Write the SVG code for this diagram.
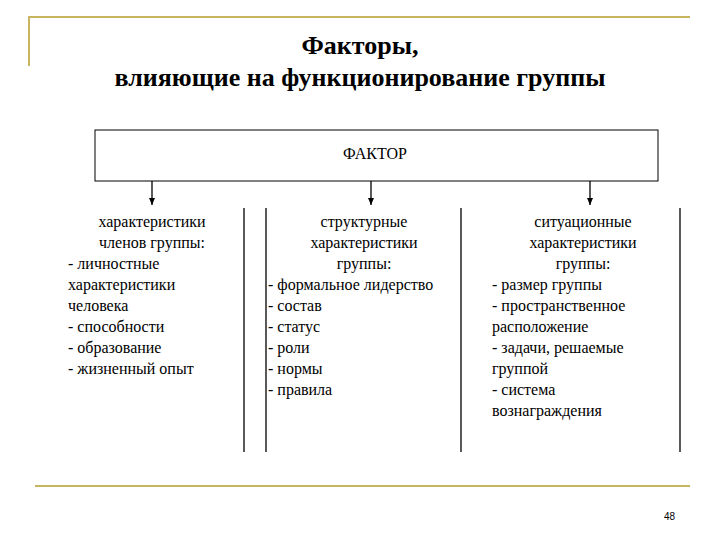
<svg xmlns="http://www.w3.org/2000/svg" width="720" height="540" viewBox="0 0 720 540">
<style>
.s{font-family:'Liberation Serif','Times New Roman','DejaVu Serif',serif}
.t{font-size:26px;font-weight:bold;text-anchor:middle}
.b{font-size:16px;text-anchor:middle}
.l{font-size:16px}
.v{stroke:#000;stroke-width:1.3}
.g{stroke:#c8b560;stroke-width:2;fill:none}
</style>
<defs><marker id="a" markerWidth="8" markerHeight="8" refX="7" refY="4" orient="auto" markerUnits="userSpaceOnUse"><path d="M0,1 L7,4 L0,7z" fill="#000"/></marker></defs>
<rect width="720" height="540" fill="#fff"/>
<path class="g" d="M29,66 V17 H690"/>
<path class="g" d="M35,486 H690"/>
<g class="s" fill="#000">
<text class="t s" x="360" y="54">Факторы,</text>
<text class="t s" x="360" y="86">влияющие на функционирование группы</text>
<g id="factor"><rect x="95" y="130" width="563" height="51" fill="#fff" stroke="#000" stroke-width="1"/><text class="b s" x="375" y="159" font-size="15">ФАКТОР</text></g>
<g id="connectors">
<line class="v" x1="152" y1="181" x2="152" y2="205" marker-end="url(#a)"/>
<line class="v" x1="371" y1="181" x2="371" y2="205" marker-end="url(#a)"/>
<line class="v" x1="590" y1="181" x2="590" y2="205" marker-end="url(#a)"/>
<line class="v" x1="244" y1="208" x2="244" y2="452"/>
<line class="v" x1="266" y1="208" x2="266" y2="452"/>
<line class="v" x1="461" y1="208" x2="461" y2="452"/>
<line class="v" x1="680" y1="208" x2="680" y2="452"/>
</g>
<g id="col1">
<text class="b s" x="152" y="227">характеристики</text>
<text class="b s" x="152" y="248">членов группы:</text>
<text class="l s" x="68" y="269">- личностные</text>
<text class="l s" x="68" y="290">характеристики</text>
<text class="l s" x="68" y="311">человека</text>
<text class="l s" x="68" y="332">- способности</text>
<text class="l s" x="68" y="353">- образование</text>
<text class="l s" x="68" y="374">- жизненный опыт</text>
</g>
<g id="col2">
<text class="b s" x="364" y="227">структурные</text>
<text class="b s" x="364" y="248">характеристики</text>
<text class="b s" x="364" y="269">группы:</text>
<text class="l s" x="268" y="290">- формальное лидерство</text>
<text class="l s" x="268" y="311">- состав</text>
<text class="l s" x="268" y="332">- статус</text>
<text class="l s" x="268" y="353">- роли</text>
<text class="l s" x="268" y="374">- нормы</text>
<text class="l s" x="268" y="395">- правила</text>
</g>
<g id="col3">
<text class="b s" x="583" y="227">ситуационные</text>
<text class="b s" x="583" y="248">характеристики</text>
<text class="b s" x="583" y="269">группы:</text>
<text class="l s" x="492" y="290">- размер группы</text>
<text class="l s" x="492" y="311">- пространственное</text>
<text class="l s" x="492" y="332">расположение</text>
<text class="l s" x="492" y="353">- задачи, решаемые</text>
<text class="l s" x="492" y="374">группой</text>
<text class="l s" x="492" y="395">- система</text>
<text class="l s" x="492" y="416">вознаграждения</text>
</g>
</g>
<text x="664" y="520" font-family="Liberation Sans, Arial, sans-serif" font-size="10">48</text>
</svg>
